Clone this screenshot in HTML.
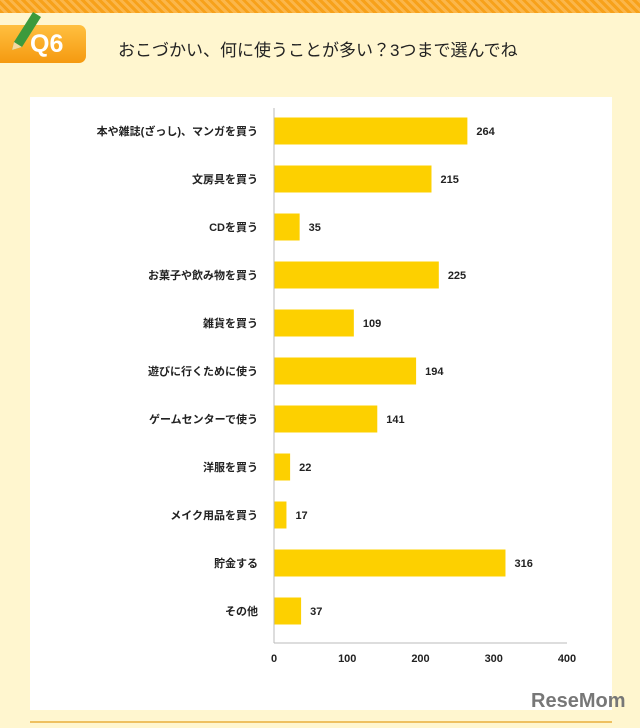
<!DOCTYPE html>
<html><head><meta charset="utf-8"><style>
body{margin:0;width:640px;height:728px;background:#fff6cf;overflow:hidden;font-family:"Liberation Sans","Noto Sans CJK JP",sans-serif;position:relative}
.band{position:absolute;left:0;top:0;width:640px;height:13px;background:repeating-linear-gradient(45deg,#f7a11a 0 3px,#fbb64a 3px 6px)}
.tab{position:absolute;left:0;top:25px;width:86px;height:38px;background:linear-gradient(#ffc040,#f59a10);border-radius:0 7px 7px 0}
.tab span{position:absolute;left:30px;top:5px;color:#fff;font-size:25px;font-weight:bold}
.title{position:absolute;left:118px;top:36px;font-size:17px;color:#222}
.panel{position:absolute;left:30px;top:97px;width:582px;height:613px;background:#fff}
.bottom{position:absolute;left:30px;top:721px;width:582px;height:2px;background:#eec060}
.logo{position:absolute;left:531px;top:690px;font-size:20px;font-weight:bold;color:#777}
</style></head><body>
<div class="band"></div>
<div class="tab"><span>Q6</span></div>
<svg style="position:absolute;left:6px;top:8px" width="40" height="44"><polygon points="8,34 27,4 35,9 16,39 6,42" fill="#3c9a3c"/><polygon points="6,42 8,34 16,39" fill="#f3d9a0"/></svg>
<div class="title">おこづかい、何に使うことが多い？3つまで選んでね</div>
<div class="panel"></div>
<svg id="c" style="position:absolute;left:0;top:0" width="640" height="728"></svg>
<div class="logo">ReseMom</div>
<div class="bottom"></div>
<script>
const categories=["本や雑誌(ざっし)、マンガを買う","文房具を買う","CDを買う","お菓子や飲み物を買う","雑貨を買う","遊びに行くために使う","ゲームセンターで使う","洋服を買う","メイク用品を買う","貯金する","その他"];
const values=[264,215,35,225,109,194,141,22,17,316,37];
const ticks=[0,100,200,300,400];
const svg=document.getElementById('c');const NS='http://www.w3.org/2000/svg';
const x=v=>274+v*0.7325;const y=i=>131+i*48;
function mk(t,a,txt){const e=document.createElementNS(NS,t);for(const k in a)e.setAttribute(k,a[k]);if(txt!==undefined)e.textContent=txt;svg.appendChild(e);return e;}
categories.forEach((c,i)=>{
 let r=mk('rect',{x:x(0),y:y(i)-13.5,width:x(values[i])-x(0),height:27,fill:'#fdd000'});
 
 
 let l=mk('text',{x:258,y:y(i)+4,'text-anchor':'end','font-size':11,'font-weight':'bold',fill:'#222'},c);
 
 
 let v=mk('text',{x:x(values[i])+9,y:y(i)+4,'font-size':11,'font-weight':'bold',fill:'#222'},values[i]);
 
 
});
let ax=mk('line',{x1:274,y1:108,x2:274,y2:643,stroke:'#bbb'});


let bx=mk('line',{x1:274,y1:643,x2:567,y2:643,stroke:'#bbb'});


ticks.forEach(t=>{
 let e=mk('text',{x:x(t),y:662,'text-anchor':'middle','font-size':11,'font-weight':'bold',fill:'#222'},t);
 
 
});
</script>
</body></html>
